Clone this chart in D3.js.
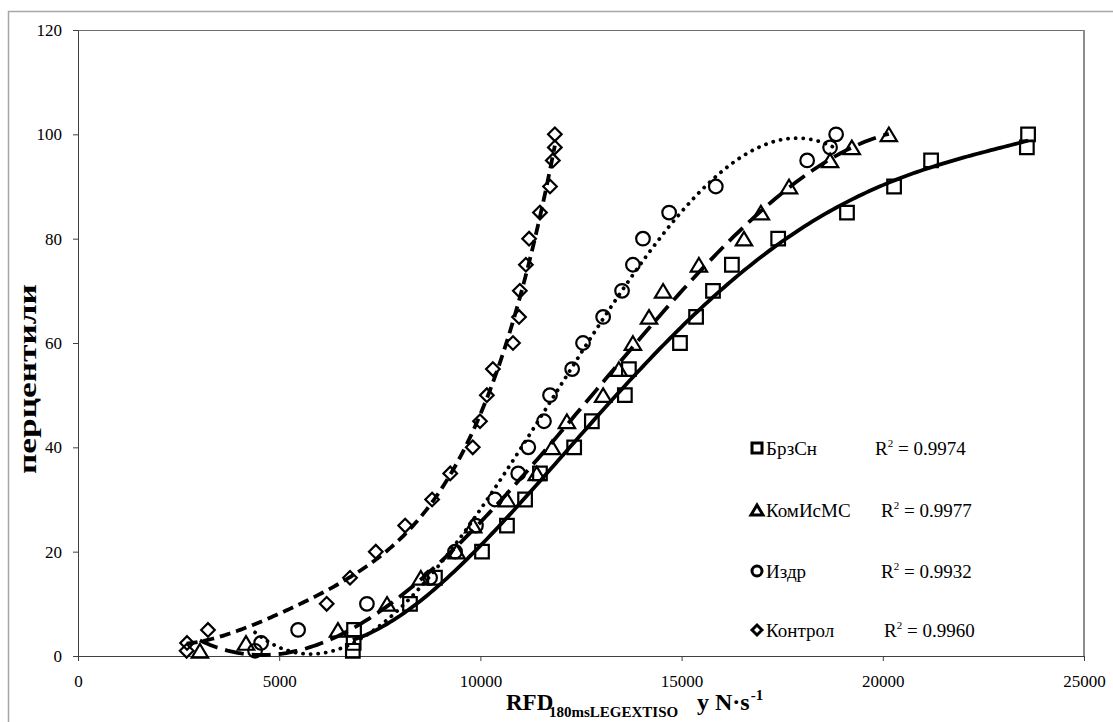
<!DOCTYPE html>
<html>
<head>
<meta charset="utf-8">
<script src="https://cdn.jsdelivr.net/npm/d3@7"></script>
<style>
  body { margin: 0; background: #fff; }
  text { font-family: "Liberation Serif", "DejaVu Serif", serif; fill: #000; }
</style>
</head>
<body>
<div id="chart"></div>
<script>

  ///////////////////////////////////////////////////////////////////////////
  ///////////////////////////////// Data ////////////////////////////////////
  ///////////////////////////////////////////////////////////////////////////

  var percentiles = [1, 2.5, 5, 10, 15, 20, 25, 30, 35, 40, 45, 50, 55, 60, 65, 70, 75, 80, 85, 90, 95, 97.5, 100]

  var brzSn   = [6830, 6850, 6860, 8250, 8870, 10040, 10660, 11110, 11480, 12330, 12770, 13590, 13690, 14960, 15360, 15780, 16250, 17400, 19110, 20280, 21200, 23580, 23610]
  var komIsMS = [3030, 4175, 6460, 7680, 8520, 9410, 9820, 10660, 11400, 11780, 12150, 13050, 13440, 13790, 14190, 14540, 15430, 16550, 16970, 17670, 18690, 19230, 20150]
  var izdr    = [4400, 4550, 5470, 7180, 8750, 9370, 9890, 10360, 10940, 11190, 11580, 11730, 12280, 12550, 13050, 13520, 13790, 14040, 14690, 15850, 18120, 18690, 18840]
  var kontrol = [2700, 2710, 3230, 6180, 6760, 7400, 8130, 8800, 9250, 9810, 9990, 10160, 10310, 10810, 10960, 10980, 11130, 11210, 11480, 11730, 11800, 11850, 11850]

  var seriesNames = ["БрзСн", "КомИсМС", "Издр", "Контрол"]
  var rSquared = ["0.9974", "0.9977", "0.9932", "0.9960"]
  var trendOrder = [4, 3, 3, 4]

  var xTicks = [0, 5000, 10000, 15000, 20000, 25000]
  var yTicks = [0, 20, 40, 60, 80, 100, 120]

  ///////////////////////////////////////////////////////////////////////////
  ///////////////////////////////// Globals /////////////////////////////////
  ///////////////////////////////////////////////////////////////////////////

  var canvasDim = { width: 1113, height: 722 }
  var plot = { left: 78, right: 1084, top: 30, bottom: 656 }

  var svg = d3.select("#chart").append("svg")
    .attr("width", canvasDim.width)
    .attr("height", canvasDim.height)

  var x = d3.scaleLinear().domain([0, 25000]).range([plot.left, plot.right])
  var y = d3.scaleLinear().domain([0, 120]).range([plot.bottom, plot.top])

  // marker shapes
  var markerPath = {
    square:   function (s) { return "M" + (-s) + "," + (-s) + "h" + 2 * s + "v" + 2 * s + "h" + (-2 * s) + "Z" },
    triangle: function (s) { return "M0," + (-s) + "L" + (s * 1.2) + "," + s + "L" + (-s * 1.2) + "," + s + "Z" },
    circle:   function (s) { return "M" + s + ",0A" + s + "," + s + " 0 1,1 " + (-s) + ",0A" + s + "," + s + " 0 1,1 " + s + ",0Z" },
    diamond:  function (s) { return "M0," + (-s) + "L" + s + ",0L0," + s + "L" + (-s) + ",0Z" }
  }

  var series = [
    { name: seriesNames[0], r2: rSquared[0], xs: brzSn,   order: trendOrder[0], sym: "square",   dash: null,      r2x: 875, ly: 448 },
    { name: seriesNames[1], r2: rSquared[1], xs: komIsMS, order: trendOrder[1], sym: "triangle", dash: "19,8",    r2x: 881, ly: 510 },
    { name: seriesNames[2], r2: rSquared[2], xs: izdr,    order: trendOrder[2], sym: "circle",   dash: "0.1,7.5", r2x: 881, ly: 571 },
    { name: seriesNames[3], r2: rSquared[3], xs: kontrol, order: trendOrder[3], sym: "diamond",  dash: "11,6",    r2x: 884, ly: 630 }
  ]

  // least squares polynomial trendline
  function polyfit(xs, ys, deg) {
    var mx = d3.mean(xs), sx = d3.deviation(xs)
    var n = deg + 1
    var A = d3.range(n).map(function () { return d3.range(n).map(function () { return 0 }) })
    var b = d3.range(n).map(function () { return 0 })
    xs.forEach(function (xv, k) {
      var t = (xv - mx) / sx
      var p = d3.range(n).map(function (j) { return Math.pow(t, j) })
      for (var i = 0; i < n; i++) {
        for (var j = 0; j < n; j++) A[i][j] += p[i] * p[j]
        b[i] += p[i] * ys[k]
      }
    })
    for (var c = 0; c < n; c++) {
      for (var r = c + 1; r < n; r++) {
        var f = A[r][c] / A[c][c]
        for (var j = c; j < n; j++) A[r][j] -= f * A[c][j]
        b[r] -= f * b[c]
      }
    }
    var coef = []
    for (var i = n - 1; i >= 0; i--) {
      var s = b[i]
      for (var j = i + 1; j < n; j++) s -= A[i][j] * coef[j]
      coef[i] = s / A[i][i]
    }
    return function (xv) {
      var t = (xv - mx) / sx
      return d3.sum(coef, function (c, j) { return c * Math.pow(t, j) })
    }
  }

  ///////////////////////////////////////////////////////////////////////////
  ///////////////////////////////// Frame ///////////////////////////////////
  ///////////////////////////////////////////////////////////////////////////

  svg.append("rect")
    .attr("x", 8.5).attr("y", 11.5)
    .attr("width", 1200).attr("height", 800)
    .style("fill", "none").style("stroke", "#a6a6a6").style("stroke-width", 1.5)

  svg.append("line")
    .attr("x1", plot.left).attr("x2", plot.right).attr("y1", plot.top + 0.5).attr("y2", plot.top + 0.5)
    .style("stroke", "#6e6e6e")
  svg.append("line")
    .attr("x1", plot.right).attr("x2", plot.right).attr("y1", plot.top).attr("y2", plot.bottom)
    .style("stroke", "#8c8c8c").style("stroke-width", 2)

  svg.append("clipPath").attr("id", "clip")
    .append("rect")
    .attr("x", plot.left).attr("y", plot.top)
    .attr("width", plot.right - plot.left).attr("height", plot.bottom - plot.top + 3)

  //////////////////// Axes ///////////////////////
  var yAxis = svg.append("g")
    .attr("transform", "translate(" + plot.left + ",0)")
    .call(d3.axisLeft(y).tickValues(yTicks).tickSize(5).tickPadding(11).tickFormat(d3.format("d")))
  var xAxis = svg.append("g")
    .attr("transform", "translate(0," + plot.bottom + ")")
    .call(d3.axisBottom(x).tickValues(xTicks).tickSize(5).tickPadding(14).tickFormat(d3.format("d")))

  ;[xAxis, yAxis].forEach(function (g) {
    g.selectAll("path, line").style("stroke", "#404040")
    g.selectAll("text").style("font-family", "Liberation Serif").style("font-size", "17px").style("fill", "#000")
  })

  // axis titles
  var xt = svg.append("text").attr("y", 710)
    .style("font-weight", "bold").style("font-size", "23px")
  xt.append("tspan").attr("x", 506).text("RFD")
  xt.append("tspan").attr("x", 549).attr("dy", 7).style("font-size", "15px").text("180msLEGEXTISO")
  xt.append("tspan").attr("x", 697).attr("dy", -7).style("font-size", "24px").text("y N·s")
  xt.append("tspan").attr("dx", 1).attr("dy", -10).style("font-size", "15px").text("-1")

  svg.append("text")
    .attr("transform", "translate(36,379) rotate(-90)")
    .attr("text-anchor", "middle")
    .attr("textLength", 190)
    .attr("lengthAdjust", "spacingAndGlyphs")
    .style("font-weight", "bold").style("font-size", "25px")
    .text("перцентили")

  ///////////////////////////////////////////////////////////////////////////
  ///////////////////////////// Markers + trends ////////////////////////////
  ///////////////////////////////////////////////////////////////////////////

  var markerG = svg.append("g")
  var trendG = svg.append("g").attr("clip-path", "url(#clip)")

  var line = d3.line().x(function (d) { return x(d[0]) }).y(function (d) { return y(d[1]) })

  series.forEach(function (s) {
    markerG.append("g").selectAll("path")
      .data(s.xs)
      .enter().append("path")
        .attr("transform", function (d, i) { return "translate(" + x(d) + "," + y(percentiles[i]) + ")" })
        .attr("d", markerPath[s.sym](6.8))
        .style("fill", "none")
        .style("stroke", "#000")
        .style("stroke-width", 2.2)

    var fit = polyfit(s.xs, percentiles, s.order)
    var ext = d3.extent(s.xs)
    var pts = d3.range(201).map(function (i) {
      var xv = ext[0] + (ext[1] - ext[0]) * i / 200
      return [xv, fit(xv)]
    })
    trendG.append("path")
      .datum(pts)
      .attr("d", line)
      .style("fill", "none")
      .style("stroke", "#000")
      .style("stroke-width", 3.8)
      .style("stroke-linecap", s.sym === "circle" ? "round" : "butt")
      .style("stroke-dasharray", s.dash)
  })

  //////////////////// Legend ///////////////////////
  var legend = svg.append("g")
  series.forEach(function (s) {
    legend.append("path")
      .attr("transform", "translate(757," + s.ly + ")")
      .attr("d", markerPath[s.sym](5))
      .style("fill", "none").style("stroke", "#000").style("stroke-width", 3)
    legend.append("text")
      .attr("x", 766).attr("y", s.ly + 7)
      .style("font-size", "19px")
      .text(s.name)
    var r = legend.append("text")
      .attr("x", s.r2x).attr("y", s.ly + 7)
      .style("font-size", "19px")
    r.append("tspan").text("R")
    r.append("tspan").attr("dy", -8).style("font-size", "11px").text("2")
    r.append("tspan").attr("dy", 8).text(" = " + s.r2)
  })

</script>
</body>
</html>
